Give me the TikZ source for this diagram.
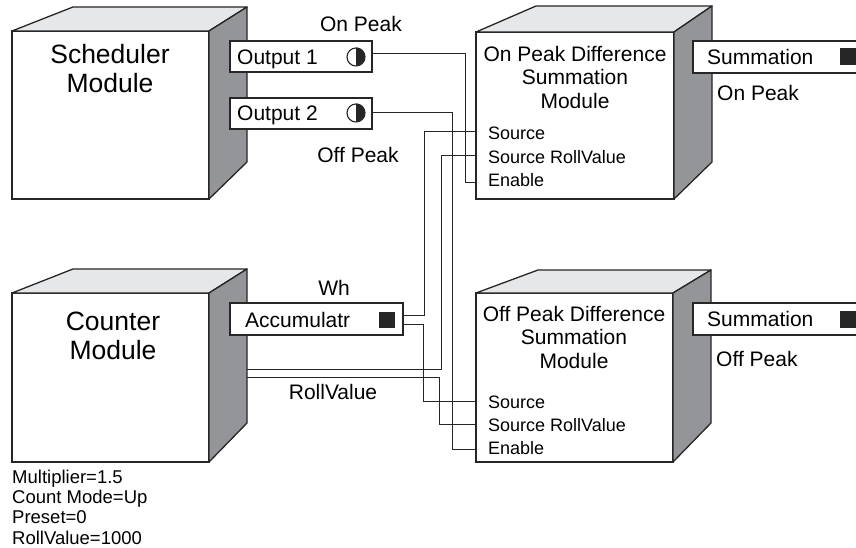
\documentclass[tikz,border=0pt]{standalone}
\usepackage{fontspec}
\setmainfont{Liberation Sans}
\usetikzlibrary{calc}
\definecolor{topgray}{HTML}{E6E7E8}
\definecolor{sidegray}{HTML}{939598}
\definecolor{ink}{HTML}{262626}
\begin{document}
\begin{tikzpicture}[x=1pt,y=-1pt,
  front/.style={draw=ink, line width=1.3pt, fill=white, rectangle, inner sep=0pt, outer sep=0pt, anchor=north west},
  topf/.style={draw=ink, line width=1.3pt, fill=topgray, line join=round},
  sidef/.style={draw=ink, line width=1.3pt, fill=sidegray, line join=round},
  portbox/.style={draw=ink, line width=1.2pt, fill=white, rectangle, inner sep=0pt, outer sep=0pt, anchor=north west},
  lbl/.style={inner sep=0pt, text height=15.04pt, text depth=0pt, font=\fontsize{21}{23}\selectfont},
  portlbl/.style={inner sep=0pt, text height=12.9pt, text depth=0pt, anchor=west, font=\fontsize{18}{20}\selectfont},
  bigtitle/.style={inner sep=0pt, align=center, font=\fontsize{26.5}{29}\selectfont},
  midtitle/.style={inner sep=0pt, align=center, font=\fontsize{21}{23.5}\selectfont},
  blacksq/.style={fill=ink, draw=none, rectangle, inner sep=0pt, outer sep=0pt, minimum size=16pt},
  halfsym/.style={circle, draw=ink, line width=1.1pt, fill=white, minimum size=18pt, inner sep=0pt},
  wire/.style={draw=ink, line width=1pt},
]
\useasboundingbox (0,0) rectangle (856,548);
\clip (0,0) rectangle (856,548);

% ---------- Scheduler cube
\node[front, minimum width=197pt, minimum height=168pt] (sched) at (12,31) {};
\draw[topf] (sched.north west) -- (sched.north east) -- ++(38,-24) -- ++(-174,0) -- cycle;
\draw[sidef] (sched.north east) -- ++(38,-24) -- ++(0,155) -- (sched.south east) -- cycle;
\node[bigtitle] (schedtxt) at (110,68.5) {Scheduler\\Module};

% ---------- Counter cube
\node[front, minimum width=197pt, minimum height=169pt] (count) at (12,293) {};
\draw[topf] (count.north west) -- (count.north east) -- ++(38,-24) -- ++(-174,0) -- cycle;
\draw[sidef] (count.north east) -- ++(38,-24) -- ++(0,154) -- (count.south east) -- cycle;
\node[bigtitle] (counttxt) at (113,336) {Counter\\Module};
\node[inner sep=0pt, anchor=north west, align=left, font=\fontsize{18.5}{20.3}\selectfont] (params) at (12,469.5)
  {Multiplier=1.5\\Count Mode=Up\\Preset=0\\RollValue=1000};

% ---------- On Peak summation cube
\node[front, minimum width=198pt, minimum height=167pt] (onsum) at (476,32) {};
\draw[topf] (onsum.north west) -- (onsum.north east) -- ++(38,-26) -- ++(-176,0) -- cycle;
\draw[sidef] (onsum.north east) -- ++(38,-26) -- ++(0,156) -- (onsum.south east) -- cycle;
\node[midtitle] (ontxt) at (575,77) {On Peak Difference\\Summation\\Module};
\node[portlbl] (onSl) at (488,133) {Source};
\node[portlbl] (onRl) at (488,157) {Source RollValue};
\node[portlbl] (onEl) at (488,180) {Enable};

% ---------- Off Peak summation cube
\node[front, minimum width=197pt, minimum height=169pt] (offsum) at (476,293) {};
\draw[topf] (offsum.north west) -- (offsum.north east) -- ++(38,-23) -- ++(-173,0) -- cycle;
\draw[sidef] (offsum.north east) -- ++(38,-23) -- ++(0,153) -- (offsum.south east) -- cycle;
\node[midtitle] (offtxt) at (574,337) {Off Peak Difference\\Summation\\Module};
\node[portlbl] (offSl) at (488,402) {Source};
\node[portlbl] (offRl) at (488,425) {Source RollValue};
\node[portlbl] (offEl) at (488,448) {Enable};

% ---------- Output ports of scheduler
\node[portbox, minimum width=142pt, minimum height=31pt] (out1) at (230,41) {};
\node[lbl, anchor=west] (out1t) at (237,57) {Output 1};
\node[halfsym] (sym1) at (356,57) {};
\fill[ink] (sym1.north) arc[start angle=90, end angle=-90, radius=9pt] -- cycle;

\node[portbox, minimum width=142pt, minimum height=31pt] (out2) at (230,98) {};
\node[lbl, anchor=west] (out2t) at (237,113) {Output 2};
\node[halfsym] (sym2) at (356,113) {};
\fill[ink] (sym2.north) arc[start angle=90, end angle=-90, radius=9pt] -- cycle;

\node[lbl] (onpk) at (361,24) {On Peak};
\node[lbl] (offpk) at (358,155) {Off Peak};

% ---------- Accumulator port of counter
\node[portbox, minimum width=173pt, minimum height=32pt] (acc) at (230,303) {};
\node[lbl, anchor=west] (acct) at (245,320) {Accumulatr};
\node[blacksq] (accsq) at (386.5,319.5) {};
\node[lbl] (wh) at (334,288) {Wh};
\node[lbl] (rv) at (333,392) {RollValue};

% ---------- Summation outputs
\node[portbox, minimum width=200pt, minimum height=32pt] (sum1) at (693,41) {};
\node[lbl, anchor=west] (sum1t) at (707,57) {Summation};
\node[blacksq, minimum width=17pt, minimum height=17pt] (sum1sq) at (848.5,56.5) {};
\node[lbl, anchor=west] (onpk2) at (717,93) {On Peak};

\node[portbox, minimum width=200pt, minimum height=32pt] (sum2) at (693,303) {};
\node[lbl, anchor=west] (sum2t) at (707,319) {Summation};
\node[blacksq, minimum width=17pt, minimum height=17pt] (sum2sq) at (848.5,319.5) {};
\node[lbl, anchor=west] (offpk2) at (716,359) {Off Peak};

% ---------- connection points
\coordinate (o1) at (372,54);
\coordinate (o2) at (372,113);
\coordinate (a1) at (403,315);
\coordinate (a2) at (403,324);
\coordinate (r1) at (247,369);
\coordinate (r2) at (247,377);
\coordinate (onS) at (476,132);
\coordinate (onR) at (476,156);
\coordinate (onE) at (476,183);
\coordinate (offS) at (476,401);
\coordinate (offR) at (476,424);
\coordinate (offE) at (476,449);

% ---------- wires
\draw[wire] (o1) -| ($(onE)+(-11,0)$) -- (onE);
\draw[wire] (o2) -| ($(offE)+(-24,0)$) -- (offE);
\draw[wire] (a1) -| ($(onS)+(-52,0)$) -- (onS);
\draw[wire] (a2) -| ($(offS)+(-53,0)$) -- (offS);
\draw[wire] (r1) -| ($(onR)+(-35,0)$) -- (onR);
\draw[wire] (r2) -| ($(offR)+(-37,0)$) -- (offR);
\end{tikzpicture}
\end{document}
